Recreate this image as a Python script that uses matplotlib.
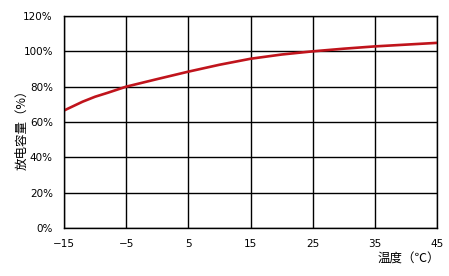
import matplotlib
matplotlib.use("Agg")
import matplotlib.pyplot as plt

plt.rcParams['font.family'] = ['Noto Sans CJK SC', 'DejaVu Sans']

temps = [-15, -12, -10, -8, -5, 0, 5, 10, 15, 20, 25, 30, 35, 40, 45]
capacity = [66.5, 71.5, 74.3, 76.5, 80, 84.3, 88.5, 92.4, 95.8, 98.2, 100, 101.5, 102.8, 103.8, 104.8]

xticks = [-15, -5, 5, 15, 25, 35, 45]
yticks = [0, 20, 40, 60, 80, 100, 120]

fig = plt.figure(figsize=(4.49, 2.76), dpi=100)
ax = fig.add_axes([0.1425, 0.174, 0.831, 0.768])

ax.plot(temps, capacity, color='#c0141c', lw=1.9)

ax.set_xlim(-15, 45)
ax.set_ylim(0, 120)
ax.set_xticks(xticks)
ax.set_yticks(yticks)
ax.set_xticklabels([str(t).replace('-', '\u2212') for t in xticks], family='DejaVu Sans')
ax.set_yticklabels([f"{v}%" for v in yticks], family='DejaVu Sans')
ax.tick_params(length=0, labelsize=7.5, pad=8)
ax.grid(True, color='black', lw=1)
for s in ax.spines.values():
    s.set_linewidth(1)

fig.text(0.049, 0.54, "放电容量（%）", fontsize=9, rotation=90, ha='center', va='center')
fig.text(0.91, 0.06, "温度（℃）", fontsize=9, ha='center', va='center')

fig.savefig("out.png", dpi=100)
